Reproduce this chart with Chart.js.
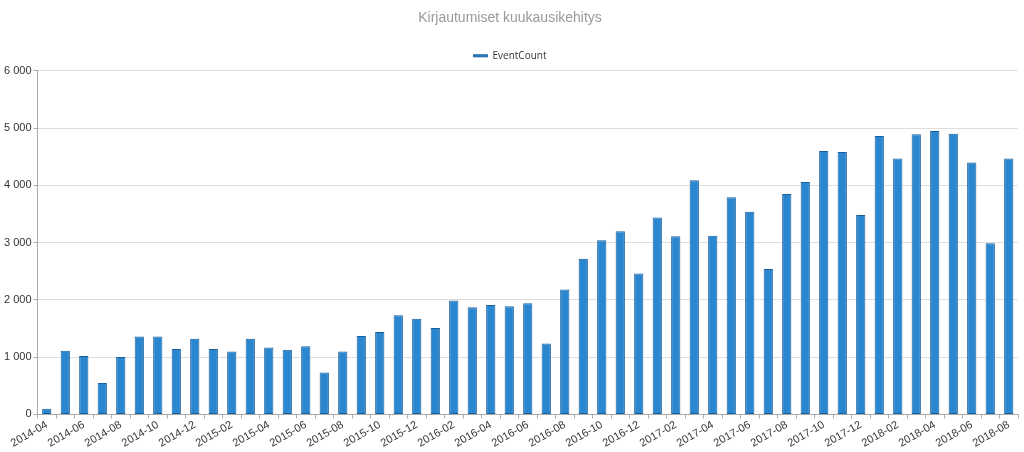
<!DOCTYPE html>
<html>
<head>
<meta charset="utf-8">
<script src="https://cdn.jsdelivr.net/npm/chart.js@4"></script>
<style>
  html, body { margin: 0; padding: 0; background: #fff; }
</style>
</head>
<body>
<canvas id="myChart" width="1024" height="452"></canvas>
<script>
// months 2014-04 .. 2018-08
const months = [
  "2014-04", "2014-05", "2014-06", "2014-07", "2014-08", "2014-09", "2014-10", "2014-11", "2014-12",
  "2015-01", "2015-02", "2015-03", "2015-04", "2015-05", "2015-06", "2015-07", "2015-08", "2015-09", "2015-10", "2015-11", "2015-12",
  "2016-01", "2016-02", "2016-03", "2016-04", "2016-05", "2016-06", "2016-07", "2016-08", "2016-09", "2016-10", "2016-11", "2016-12",
  "2017-01", "2017-02", "2017-03", "2017-04", "2017-05", "2017-06", "2017-07", "2017-08", "2017-09", "2017-10", "2017-11", "2017-12",
  "2018-01", "2018-02", "2018-03", "2018-04", "2018-05", "2018-06", "2018-07", "2018-08"
];

const eventCount = [
  100, 1110, 1020, 550, 1000, 1360, 1360, 1140, 1320,
  1140, 1100, 1320, 1170, 1130, 1190, 730, 1100, 1370, 1440, 1730, 1670,
  1510, 1990, 1870, 1910, 1890, 1940, 1240, 2180, 2720, 3040, 3200, 2460,
  3440, 3110, 4090, 3120, 3790, 3540, 2540, 3850, 4060, 4600, 4580, 3480,
  4860, 4470, 4890, 4950, 4900, 4400, 2990, 4470
];

const yTicks = [0, 1000, 2000, 3000, 4000, 5000, 6000];

const ctx = document.getElementById("myChart");

const myChart = new Chart(ctx, {
  type: "bar",
  data: {
    labels: months,
    datasets: [
      {
        label: "EventCount",
        data: eventCount,
        backgroundColor: "#2b86d0",
        borderColor: "#17609e",
        borderWidth: 1,
        borderSkipped: false,
        barPercentage: 0.5,
        categoryPercentage: 1,
      },
    ],
  },
  options: {
    responsive: false,
    animation: false,
    layout: {
      padding: { left: 2, right: 6, top: 7, bottom: 2 },
    },
    plugins: {
      title: {
        display: true,
        text: "Kirjautumiset kuukausikehitys",
        color: "#999",
        font: { family: "Liberation Sans, Arial", size: 14, weight: "normal" },
        padding: { top: 3, bottom: 14 },
      },
      legend: {
        display: true,
        labels: {
          boxWidth: 14,
          boxHeight: 2,
          color: "#333",
          font: { family: "Open Sans, Liberation Sans", size: 10 },
          padding: 10,
        },
      },
      tooltip: { enabled: false },
    },
    scales: {
      y: {
        min: 0,
        max: 6000,
        afterBuildTicks: (axis) => {
          axis.ticks = yTicks.map((v) => ({ value: v }));
        },
        grid: {
          color: "#dedede",
          tickLength: 4,
          tickColor: "#aaa",
        },
        border: { color: "#aaa", width: 1 },
        ticks: {
          color: "#333",
          padding: 2,
          font: { family: "Liberation Sans, Arial", size: 11 },
          callback: (v) => String(v).replace(/\B(?=(\d{3})+(?!\d))/g, " "),
        },
      },
      x: {
        offset: true,
        grid: {
          offset: true,
          drawOnChartArea: false,
          tickLength: 4,
          tickColor: "#aaa",
        },
        border: { color: "#aaa", width: 1 },
        ticks: {
          autoSkip: false,
          minRotation: 30,
          maxRotation: 30,
          color: "#333",
          padding: 0,
          font: { family: "Liberation Sans, Arial", size: 11 },
          callback: function (val, i) {
            return i % 2 === 0 ? this.getLabelForValue(val) : "";
          },
        },
      },
    },
  },
});
</script>
</body>
</html>
